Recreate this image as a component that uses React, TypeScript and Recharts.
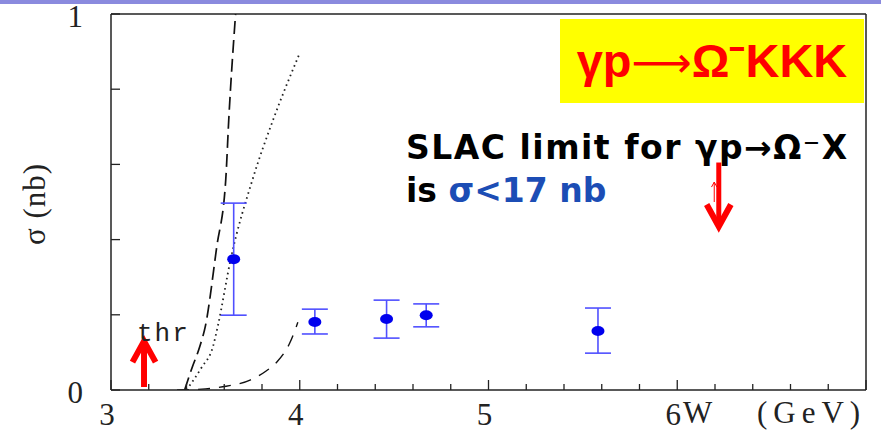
import { ComposedChart, XAxis, YAxis, Line, Scatter, ErrorBar, ReferenceLine } from 'recharts'

// measured cross sections (W in GeV, sigma in nb)
const ptW = [3.65, 4.08, 4.46, 4.67, 5.58]
const ptSigma = [0.348, 0.181, 0.189, 0.199, 0.157]
const ptLow = [0.199, 0.149, 0.138, 0.168, 0.098]
const ptHigh = [0.497, 0.215, 0.239, 0.229, 0.218]

// model curves
const steepW = [3.39, 3.43, 3.47, 3.5, 3.56, 3.608, 3.624, 3.66]
const steepSigma = [0, 0.06, 0.115, 0.17, 0.38, 0.56, 0.72, 1.0]
const dottedW = [3.4, 3.48, 3.54, 3.566, 3.635, 3.75, 3.86, 3.995]
const dottedSigma = [0, 0.06, 0.115, 0.17, 0.35, 0.56, 0.72, 0.89]
const lowW = [3.35, 3.5, 3.61, 3.74, 3.82, 3.88, 3.947, 3.99]
const lowSigma = [0, 0.003, 0.01, 0.027, 0.05, 0.075, 0.125, 0.18]

// red arrows: W, tail, tip
const thrArrow = { w: 3.175, from: 0.008, to: 0.13, sw: 6 }
const slacArrow = { w: 6.22, from: 0.605, to: 0.435, sw: 5 }
const smallArrow = { w: 6.196, from: 0.5, to: 0.553, sw: 1 }

const xTicks = [3, 3.2, 3.4, 3.6, 3.8, 4, 4.2, 4.4, 4.6, 4.8, 5, 5.2, 5.4, 5.6, 5.8, 6, 6.2, 6.4, 6.6, 6.8, 7]
const xLabels = [3, 4, 5, 6]
const yTicks = [0, 0.2, 0.4, 0.6, 0.8, 1]
const yLabels = [0, 1]

const toPts = (xs: number[], ys: number[]) => xs.map((x, i) => ({ x, y: ys[i] }))

const points = ptW.map((x, i) => ({
  x,
  y: ptSigma[i],
  err: [ptSigma[i] - ptLow[i], ptHigh[i] - ptSigma[i]],
}))

const INK = '#222'
const RED = '#ff0000'
const SERIF = 'Liberation Serif'
const isMajor = (v: number) => Math.abs(v - Math.round(v)) < 1e-6

const BottomTick = (props: any) => {
  const { x, y, payload } = props
  const v = payload.value
  return (
    <g>
      <line x1={x} y1={y} x2={x} y2={y - (isMajor(v) ? 10 : 6)} stroke={INK} strokeWidth={1.3} />
      {xLabels.includes(v) && (
        <text x={x - 4} y={y + 35} textAnchor="middle" fontFamily={SERIF} fontSize={31} fill={INK}>
          {v}
        </text>
      )}
    </g>
  )
}

const TopTick = (props: any) => {
  const { x, y } = props
  return <line x1={x} y1={y} x2={x} y2={y + 6} stroke={INK} strokeWidth={1.3} />
}

const LeftTick = (props: any) => {
  const { x, y, payload } = props
  const v = payload.value
  return (
    <g>
      <line x1={x} y1={y} x2={x + 9} y2={y} stroke={INK} strokeWidth={1.3} />
      {yLabels.includes(v) && (
        <text x={x - 28} y={y + 2} textAnchor="end" dominantBaseline="central" fontFamily={SERIF} fontSize={31} fill={INK}>
          {v}
        </text>
      )}
    </g>
  )
}

const RightTick = (props: any) => {
  const { x, y } = props
  return <line x1={x} y1={y} x2={x - 9} y2={y} stroke={INK} strokeWidth={1.3} />
}

const Dot = (props: any) => <ellipse cx={props.cx} cy={props.cy} rx={6.5} ry={5} fill="#0000ee" />

const Head = (props: any) => {
  const { cx, cy, payload } = props
  const s = payload.dir === 'up' ? 1 : -1
  const a = payload.size
  return (
    <polyline
      points={`${cx - a * 0.55},${cy + s * a} ${cx},${cy} ${cx + a * 0.55},${cy + s * a}`}
      fill="none"
      stroke={RED}
      strokeWidth={payload.sw}
      strokeLinejoin="miter"
    />
  )
}

const heads = [
  { x: thrArrow.w, y: thrArrow.to, dir: 'up', size: 21, sw: 6 },
  { x: slacArrow.w, y: slacArrow.to, dir: 'down', size: 22, sw: 6 },
  { x: smallArrow.w, y: smallArrow.to, dir: 'up', size: 5, sw: 1 },
]

const arrows = [thrArrow, slacArrow, smallArrow]

export default function App() {
  return (
    <div style={{ position: 'absolute', left: 0, top: 0, width: 881, height: 431, background: '#fff' }}>
      <div style={{ position: 'absolute', left: 0, top: 0, width: 881, height: 4, background: '#8a8ade' }} />
      <ComposedChart width={881} height={431} margin={{ top: 0, right: 0, bottom: 0, left: 0 }}>
        <XAxis
          dataKey="x"
          type="number"
          domain={[3, 7]}
          ticks={xTicks}
          interval={0}
          allowDataOverflow
          height={41}
          tickSize={0}
          tickMargin={0}
          tick={BottomTick}
          axisLine={{ stroke: INK, strokeWidth: 1.5 }}
        />
        <XAxis
          xAxisId="top"
          orientation="top"
          dataKey="x"
          type="number"
          domain={[3, 7]}
          ticks={xTicks}
          interval={0}
          height={14}
          tickSize={0}
          tickMargin={0}
          tick={TopTick}
          axisLine={{ stroke: INK, strokeWidth: 1.5 }}
        />
        <YAxis
          dataKey="y"
          type="number"
          domain={[0, 1]}
          ticks={yTicks}
          interval={0}
          allowDataOverflow
          width={111}
          tickSize={0}
          tickMargin={0}
          tick={LeftTick}
          axisLine={{ stroke: INK, strokeWidth: 1.5 }}
        />
        <YAxis
          yAxisId="right"
          orientation="right"
          type="number"
          domain={[0, 1]}
          ticks={yTicks}
          interval={0}
          width={15}
          tickSize={0}
          tickMargin={0}
          tick={RightTick}
          axisLine={{ stroke: INK, strokeWidth: 1.5 }}
        />
        <Line data={toPts(steepW, steepSigma)} dataKey="y" type="monotone" stroke="#111" strokeWidth={1.7} strokeDasharray="13 6" dot={false} isAnimationActive={false} />
        <Line data={toPts(dottedW, dottedSigma)} dataKey="y" type="monotone" stroke="#222" strokeWidth={1.8} strokeDasharray="1.6 3.6" dot={false} isAnimationActive={false} />
        <Line data={toPts(lowW, lowSigma)} dataKey="y" type="monotone" stroke="#111" strokeWidth={1.4} strokeDasharray="12 9" dot={false} isAnimationActive={false} />
        <Scatter data={points} dataKey="y" shape={Dot} isAnimationActive={false}>
          <ErrorBar dataKey="err" direction="y" width={13} stroke="#5050ff" strokeWidth={1.6} isAnimationActive={false} />
        </Scatter>
        {arrows.map((a, i) => (
          <ReferenceLine
            key={i}
            segment={[
              { x: a.w, y: a.from },
              { x: a.w, y: a.to },
            ]}
            stroke={RED}
            strokeWidth={a.sw}
            ifOverflow="visible"
          />
        ))}
        <Scatter data={heads} dataKey="y" shape={Head} isAnimationActive={false} />
      </ComposedChart>
      <svg width={881} height={431} style={{ position: 'absolute', left: 0, top: 0, pointerEvents: 'none' }}>
        <text x={0} y={0} transform="translate(45 204) rotate(-90)" textAnchor="middle" fontFamily={SERIF} fontSize={31} letterSpacing={1} fill={INK}>
          σ (nb)
        </text>
        <text x={683} y={423} fontFamily={SERIF} fontSize={31} fill={INK}>
          <tspan>W</tspan>
          <tspan x={757} letterSpacing={6}>(GeV)</tspan>
        </text>
        <text x={137} y={341} fontFamily="Liberation Mono" fontSize={26} letterSpacing={2} fill={INK}>
          thr
        </text>
      </svg>
      <div
        style={{
          position: 'absolute',
          left: 560,
          top: 19,
          width: 304,
          height: 84,
          background: '#ffff00',
          color: RED,
          fontFamily: 'Liberation Sans, Arial, sans-serif',
          fontWeight: 'bold',
          fontSize: 47,
          lineHeight: '84px',
          textAlign: 'center',
          whiteSpace: 'nowrap',
        }}
      >
        γp<span style={{ fontFamily: 'DejaVu Sans', fontWeight: 'normal', fontSize: 42 }}>⟶</span>Ω⁻KKK
      </div>
      <div
        style={{
          position: 'absolute',
          left: 406,
          top: 126,
          fontFamily: 'DejaVu Sans, sans-serif',
          fontWeight: 'bold',
          fontSize: 33,
          lineHeight: '43px',
          color: '#000',
          whiteSpace: 'nowrap',
        }}
      >
        <div style={{ letterSpacing: 1.5 }}>SLAC limit for γp→Ω⁻X</div>
        <div>
          is <span style={{ color: '#1c4db5' }}>σ&lt;17 nb</span>
        </div>
      </div>
    </div>
  )
}
